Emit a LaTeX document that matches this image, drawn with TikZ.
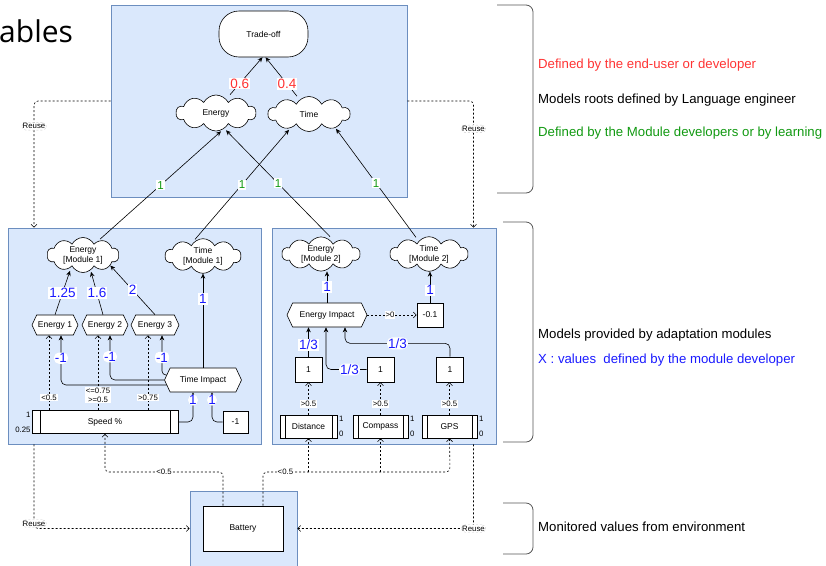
\documentclass[tikz,border=0pt]{standalone}
\usepackage{fontspec}
\setmainfont{Liberation Sans}
\newfontfamily\titlefont{Open Sans}
\usetikzlibrary{shapes.geometric,shapes.symbols,shapes.misc,arrows.meta,calc}
\definecolor{boxfill}{HTML}{DAE8FC}
\definecolor{boxdraw}{HTML}{6C8EBF}
\definecolor{valred}{HTML}{FF3333}
\definecolor{valblue}{HTML}{1A1AFF}
\definecolor{valgreen}{HTML}{119911}
\definecolor{bracecol}{HTML}{555555}
\tikzset{
 container/.style={draw=boxdraw, fill=boxfill, line width=0.6pt, inner sep=0pt, rectangle},
 nf/.style={font=\fontsize{8.5}{10}\selectfont},
 cl/.style={cloud, cloud puffs=10, cloud puff arc=125, cloud ignores aspect, draw, fill=white, inner sep=0pt, align=center, nf, line width=0.6pt},
 hex/.style={signal, signal to=east and west, signal pointer angle=130, draw, fill=white, inner sep=0pt, nf, line width=0.6pt},
 bx/.style={rectangle, draw, fill=white, inner sep=0pt, nf, line width=0.6pt},
 proc/.style={bx, path picture={\draw[line width=0.6pt] ([xshift=#1]path picture bounding box.north west) -- ([xshift=#1]path picture bounding box.south west); \draw[line width=0.6pt] ([xshift=-#1]path picture bounding box.north east) -- ([xshift=-#1]path picture bounding box.south east);}},
 arr/.style={-{Stealth[length=5pt,width=4.5pt]}, line width=0.6pt},
 darr/.style={-{Straight Barb[length=3pt,width=6pt]}, dash pattern=on 2pt off 2pt, line width=0.6pt},
 val/.style={fill=white, inner sep=1pt, font=\fontsize{13.5}{13.5}\selectfont},
 gval/.style={fill=white, inner sep=1pt, text=valgreen, font=\fontsize{11.5}{11.5}\selectfont},
 sm/.style={fill=white, inner sep=1pt, font=\fontsize{7.8}{8.8}\selectfont, align=center},
 reuse/.style={sm, draw=gray!40, line width=0.4pt},
 side/.style={inner sep=0pt, font=\fontsize{7.8}{8.8}\selectfont},
 legend/.style={anchor=west, font=\fontsize{13.2}{15}\selectfont, inner sep=0pt},
 bracket/.style={draw=bracecol, line width=0.8pt, rounded corners=7pt},
}
\begin{document}
\begin{tikzpicture}[x=1pt,y=-1pt]
\useasboundingbox (0,0) rectangle (826,565);

% title fragment
\node[anchor=base west, inner sep=0pt, font=\titlefont\fontsize{30}{30}\selectfont] (title) at (-1,42) {ables};

% containers
\node[container, minimum width=296pt, minimum height=192pt] (topc) at (259,101) {};
\node[container, minimum width=253pt, minimum height=216pt] (lmod) at (134.5,336) {};
\node[container, minimum width=224pt, minimum height=216pt] (rmod) at (384,336) {};
\node[container, minimum width=107pt, minimum height=75pt] (bo) at (243.5,528.5) {};

% top nodes
\node[bx, rounded corners=20pt, minimum width=89pt, minimum height=46pt] (trade) at (263.5,34) {Trade-off};
\node[cl, minimum width=80pt, minimum height=36pt] (E) at (216,113) {Energy};
\node[cl, minimum width=82pt, minimum height=35pt] (T) at (309,114) {Time};

% module 1
\node[cl, minimum width=72pt, minimum height=35pt] (E1) at (83,255) {Energy\\{}[Module 1]};
\node[cl, minimum width=76pt, minimum height=34pt] (T1) at (203,256) {Time\\{}[Module 1]};
\node[hex, minimum width=46pt, minimum height=20pt] (h1) at (55,325) {Energy 1};
\node[hex, minimum width=46pt, minimum height=20pt] (h2) at (105,325) {Energy 2};
\node[hex, minimum width=48pt, minimum height=20pt] (h3) at (155,325) {Energy 3};
\node[hex, minimum width=77pt, minimum height=24pt] (TI) at (203,380) {Time Impact};
\node[proc=8pt, minimum width=146pt, minimum height=23pt] (speed) at (105,422) {Speed \%};
\node[bx, minimum width=25pt, minimum height=22pt] (m1) at (235.5,422) {-1};
\node[side, anchor=east] (sp1) at ([xshift=-1pt,yshift=-4.5pt]speed.north west) {1};
\node[side, anchor=east] (sp0) at ([xshift=-1pt,yshift=3.5pt]speed.south west) {0.25};

% module 2
\node[cl, minimum width=78pt, minimum height=33pt] (E2) at (321,254) {Energy\\{}[Module 2]};
\node[cl, minimum width=78pt, minimum height=33pt] (T2) at (429,254) {Time\\{}[Module 2]};
\node[hex, minimum width=80pt, minimum height=24pt] (EI) at (327,315) {Energy Impact};
\node[bx, minimum width=26pt, minimum height=24pt] (m01) at (430,315) {-0.1};
\node[bx, minimum width=27pt, minimum height=25pt] (b1) at (308.5,369.5) {1};
\node[bx, minimum width=27pt, minimum height=25pt] (b2) at (380.5,369.5) {1};
\node[bx, minimum width=27pt, minimum height=25pt] (b3) at (450,369.5) {1};
\node[proc=5pt, minimum width=57pt, minimum height=23pt] (s1) at (308.5,426.5) {Distance};
\node[proc=5pt, minimum width=55pt, minimum height=23pt] (s2) at (380.5,426.5) {Compass};
\node[proc=5pt, minimum width=55pt, minimum height=23pt] (s3) at (449.5,426.5) {GPS};
\foreach \s in {s1,s2,s3}{
  \node[side, anchor=west] (\s top) at ([xshift=1.5pt,yshift=-4pt]\s.north east) {1};
  \node[side, anchor=west] (\s bot) at ([xshift=1.5pt,yshift=4pt]\s.south east) {0};
}

% battery
\node[bx, minimum width=80pt, minimum height=45pt] (batt) at (243,528.5) {Battery};

% top edges
\draw[arr] ([xshift=14pt]E.north) -- node[val, text=valred, pos=0.3]{0.6} ([xshift=-1pt]trade.south);
\draw[arr] ([xshift=-12pt]T.north) -- node[val, text=valred, pos=0.32]{0.4} ([xshift=2pt]trade.south);

% module to root edges
\draw[arr] ([xshift=17pt,yshift=-2pt]E1.north) -- node[gval]{1} ([xshift=5pt]E.south);
\draw[arr] ([xshift=-8pt,yshift=-1pt]T1.north) -- node[gval]{1} ([xshift=-20pt,yshift=2pt]T.south);
\draw[arr] ([xshift=9pt]E2.north) -- node[gval]{1} ([xshift=10pt,yshift=1pt]E.south);
\draw[arr] ([xshift=-13pt,yshift=-1pt]T2.north) -- node[gval]{1} ([xshift=27pt,yshift=3pt]T.south);

% module 1 edges
\draw[arr] (h1.north) -- node[val, text=valblue]{1.25} ([xshift=-13pt,yshift=2pt]E1.south);
\draw[arr] ([xshift=-2pt]h2.north) -- node[val, text=valblue]{1.6} ([xshift=8pt,yshift=1pt]E1.south);
\draw[arr] (h3.north) -- node[val, text=valblue]{2} (E1.-21);
\draw[arr] (TI.north) -- node[val, text=valblue, pos=0.73]{1} (TI.north |- T1.south);
\draw[arr, rounded corners=5pt] ($(TI.west)+(2.5,5)$) -| node[val, text=valblue, pos=0.77]{-1} ([xshift=6pt]h1.south);
\draw[arr, rounded corners=5pt] (TI.west) -| node[val, text=valblue, pos=0.76]{-1} ([xshift=5pt]h2.south);
\draw[arr, rounded corners=4pt] ($(TI.west)+(2.5,-5)$) -| node[val, text=valblue, pos=0.72]{-1} ([xshift=7pt]h3.south);
\draw[darr] ([xshift=-56pt]speed.north) -- node[sm, pos=0.17]{<0.5} ([xshift=-6pt]h1.south);
\draw[darr] ([xshift=-7pt]speed.north) -- node[sm, pos=0.2]{<=0.75\\>=0.5} ([xshift=-7pt]h2.south);
\draw[darr] ([xshift=43pt]speed.north) -- node[sm, pos=0.17]{>0.75} ([xshift=-7pt]h3.south);
\draw[arr, rounded corners=5pt] (speed.east) -| node[val, text=valblue, pos=0.87]{1} ([xshift=-10pt]TI.south);
\draw[arr, rounded corners=5pt] (m1.west) -| node[val, text=valblue, pos=0.87]{1} ([xshift=9pt]TI.south);

% module 2 edges
\draw[arr] (EI.north) -- node[val, text=valblue]{1} (EI.north |- E2.south);
\draw[arr] (m01.north) -- node[val, text=valblue, pos=0.4]{1} (m01.north |- T2.south);
\draw[darr] (EI.east) -- node[sm, pos=0.46]{>0} (m01.west);
\draw[arr] (b1.north) -- node[val, text=valblue, pos=0.4]{1/3} (b1.north |- EI.south);
\draw[arr, rounded corners=5pt] (b2.west) -| node[val, text=valblue, pos=0.21]{1/3} ([xshift=-1pt]EI.south);
\draw[arr, rounded corners=5pt] (b3.north) |- node[val, text=valblue, pos=0.75]{1/3} ([xshift=18pt,yshift=-16pt]EI.south) -- ([xshift=18pt]EI.south);
\draw[darr] (s1.north) -- node[sm, pos=0.33]{>0.5} (s1.north |- b1.south);
\draw[darr] (s2.north) -- node[sm, pos=0.33]{>0.5} (s2.north |- b2.south);
\draw[darr] (s3.north) -- node[sm, pos=0.33]{>0.5} (s3.north |- b3.south);

% battery buses
\coordinate (busL) at (105,472);
\coordinate (busR) at (450,472);
\draw[darr, rounded corners=4pt] ([xshift=-20pt]batt.north) |- node[sm, pos=0.75]{<0.5} (busL) -- (speed.south);
\draw[darr, rounded corners=4pt] ([xshift=20pt]batt.north) |- node[sm, pos=0.56]{<0.5} (busR) -- (s3.south);
\draw[darr] (s1.south |- busR) -- (s1.south);
\draw[darr] (s2.south |- busR) -- (s2.south);

% reuse links
\draw[darr, rounded corners=4pt] (topc.west) -| node[reuse, pos=0.6]{Reuse} ([xshift=-100.5pt]lmod.north);
\draw[darr, rounded corners=4pt] (topc.east) -| node[reuse, pos=0.61]{Reuse} ([xshift=89.5pt]rmod.north);
\draw[darr, rounded corners=4pt] ([xshift=-100.5pt]lmod.south) |- node[reuse, pos=0.47]{Reuse} (bo.west);
\draw[darr, rounded corners=4pt] ([xshift=89.5pt]rmod.south) |- node[reuse, pos=0.5]{Reuse} (bo.east);

% brackets
\draw[bracket] (497,5) -- (533,5) -- (533,193) -- (497,193);
\draw[bracket] (503,222) -- (533,222) -- (533,442) -- (503,442);
\draw[bracket] (503,503) -- (533,503) -- (533,554) -- (503,554);

% legend
\node[legend, text=valred] (l1) at (538,65) {Defined by the end-user or developer};
\node[legend] (l2) at (538,100) {Models roots defined by Language engineer};
\node[legend, text=valgreen] (l3) at (538,133) {Defined by the Module developers or by learning};
\node[legend] (l4) at (538,335) {Models provided by adaptation modules};
\node[legend, text=valblue] (l5) at (538,360) {X : values\ \ defined by the module developer};
\node[legend] (l6) at (538,527) {Monitored values from environment};
\end{tikzpicture}
\end{document}
